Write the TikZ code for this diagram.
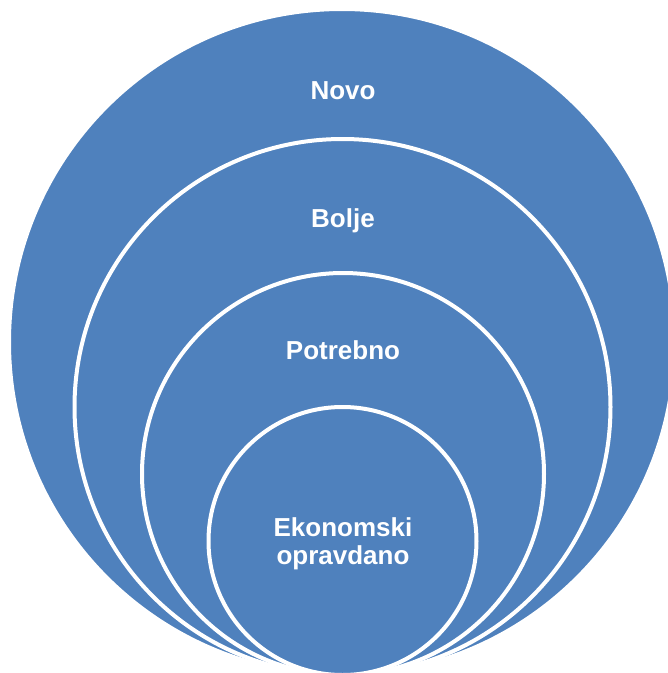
\documentclass[tikz,border=0pt]{standalone}
\usepackage{fontspec}
\setmainfont{Liberation Sans}
\definecolor{ringblue}{HTML}{4F81BD}
\begin{document}
\begin{tikzpicture}[x=1pt,y=-1pt,
  ring/.style={circle, fill=ringblue, draw=white, line width=4pt, inner sep=0pt, outer sep=0pt},
  lbl/.style={text=white, font=\fontsize{26}{28}\selectfont\bfseries, align=center, inner sep=0pt}]
\path[use as bounding box, clip] (0,0) rectangle (668,673);
\node[ring, minimum size=666pt] (c1) at (342,342) {};
\node[ring, minimum size=536pt] (c2) at (342.5,407) {};
\node[ring, minimum size=402pt] (c3) at (343,474) {};
\node[ring, minimum size=268pt] (c4) at (342.5,541) {};
\node[lbl] (t1) at (343,91) {Novo};
\node[lbl] (t2) at (343,221) {Bolje};
\node[lbl] (t3) at (343,350) {Potrebno};
\node[lbl] (t4) at (343,544) {Ekonomski\\opravdano};
\end{tikzpicture}
\end{document}
